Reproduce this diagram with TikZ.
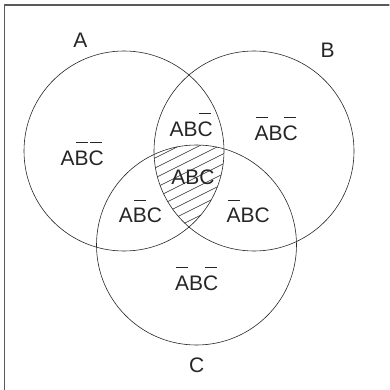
\documentclass[tikz,border=0pt]{standalone}
\usepackage{fontspec}
\setmainfont{Liberation Sans}
\newcommand{\nt}[1]{\ooalign{#1\cr\hidewidth\raisebox{1.05em}{\rule{0.58em}{0.05em}}\hidewidth\cr}}

\begin{document}
\begin{tikzpicture}[x=1pt, y=-1pt, line join=round, line cap=round,
    set/.style={draw=black!85, line width=0.6pt},
    lbl/.style={anchor=base, inner sep=0pt, text=black!85, font=\fontsize{21}{23}\selectfont}]
  \useasboundingbox (0,0) rectangle (389,390);
  \draw[gray!70!black, line width=1.2pt] (389,5) -- (4.5,5) -- (4.5,390);
  % hatching of the common part
  \begin{scope}
    \clip (124,151) circle (100pt);
    \clip (254,151) circle (100pt);
    \clip (196.5,245) circle (100pt);
    \foreach \k in {0,...,16} {
      \draw[black!85, line width=0.5pt] (100,145.5+10*\k) -- ++(200,-100);
    }
  \end{scope}
  \draw[set] (124,151) circle (100pt);
  \draw[set] (254,151) circle (100pt);
  \draw[set] (196.5,245) circle (100pt);
  % set names
  \node[lbl] (nameA) at (80.3,47.7) {A};
  \node[lbl] (nameB) at (327.5,57.7) {B};
  \node[lbl] (nameC) at (196.7,372.3) {C};
  % regions
  \node[lbl] (onlyA) at (82.2,165) {A\nt{B}\nt{C}};
  \node[lbl] (AnotC) at (191.3,136.5) {AB\nt{C}};
  \node[lbl] (onlyB) at (276.3,140) {\nt{A}B\nt{C}};
  \node[lbl] (all) at (193,184) {ABC};
  \node[lbl] (AnotB) at (140.5,222.7) {A\nt{B}C};
  \node[lbl] (BnotA) at (248.3,222.7) {\nt{A}BC};
  \node[lbl] (onlyC) at (196.7,290) {\nt{A}B\nt{C}};
\end{tikzpicture}
\end{document}
